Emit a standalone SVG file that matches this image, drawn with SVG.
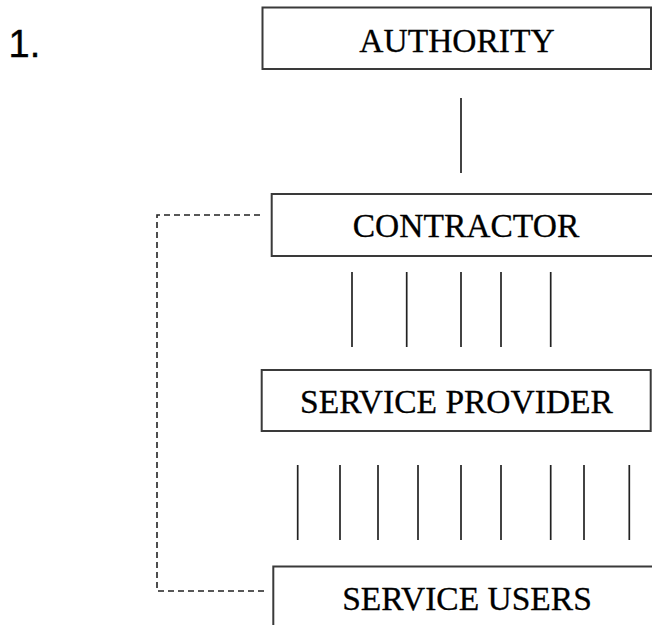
<svg xmlns="http://www.w3.org/2000/svg" width="652" height="625" viewBox="0 0 652 625">
<style>
.box{fill:#fff;stroke:#3a3a3a;stroke-width:2}
.lbl{font-family:"Liberation Serif","Times New Roman",serif;font-size:33.5px;fill:#000;stroke:#000;stroke-width:0.3;text-anchor:middle}
.ln{stroke:#222;stroke-width:1.7;fill:none}
.dash{stroke:#222;stroke-width:1.6;fill:none;stroke-dasharray:6,4}
</style>
<rect width="652" height="625" fill="#fff"/>
<text x="8.5" y="56.7" font-family="'Liberation Sans', Arial, sans-serif" font-size="38" fill="#000" stroke="#000" stroke-width="0.4">1.</text>
<g id="connectors">
<line class="ln" x1="461" y1="98" x2="461" y2="173"/>
<g id="contractor-provider">
<line class="ln" x1="352" y1="272" x2="352" y2="347"/>
<line class="ln" x1="406.7" y1="272" x2="406.7" y2="347"/>
<line class="ln" x1="461" y1="272" x2="461" y2="347"/>
<line class="ln" x1="501" y1="272" x2="501" y2="347"/>
<line class="ln" x1="550.7" y1="272" x2="550.7" y2="347"/>
</g>
<g id="provider-users">
<line class="ln" x1="297.7" y1="465" x2="297.7" y2="540"/>
<line class="ln" x1="340" y1="465" x2="340" y2="540"/>
<line class="ln" x1="378" y1="465" x2="378" y2="540"/>
<line class="ln" x1="418" y1="465" x2="418" y2="540"/>
<line class="ln" x1="461" y1="465" x2="461" y2="540"/>
<line class="ln" x1="501" y1="465" x2="501" y2="540"/>
<line class="ln" x1="550.7" y1="465" x2="550.7" y2="540"/>
<line class="ln" x1="584" y1="465" x2="584" y2="540"/>
<line class="ln" x1="629.3" y1="465" x2="629.3" y2="540"/>
</g>
<path class="dash" d="M260 215 H157 V591 H267"/>
</g>
<g id="authority">
<rect class="box" x="262.5" y="7.5" width="388.5" height="61.5"/>
<text class="lbl" x="457" y="51.7">AUTHORITY</text>
</g>
<g id="contractor">
<rect class="box" x="271.7" y="194" width="390" height="62"/>
<text class="lbl" x="466" y="237">CONTRACTOR</text>
</g>
<g id="service-provider">
<rect class="box" x="261.7" y="370" width="389" height="61"/>
<text class="lbl" x="456.5" y="412.7">SERVICE PROVIDER</text>
</g>
<g id="service-users">
<rect class="box" x="273.3" y="566.5" width="390" height="70"/>
<text class="lbl" x="467" y="610">SERVICE USERS</text>
</g>
</svg>
